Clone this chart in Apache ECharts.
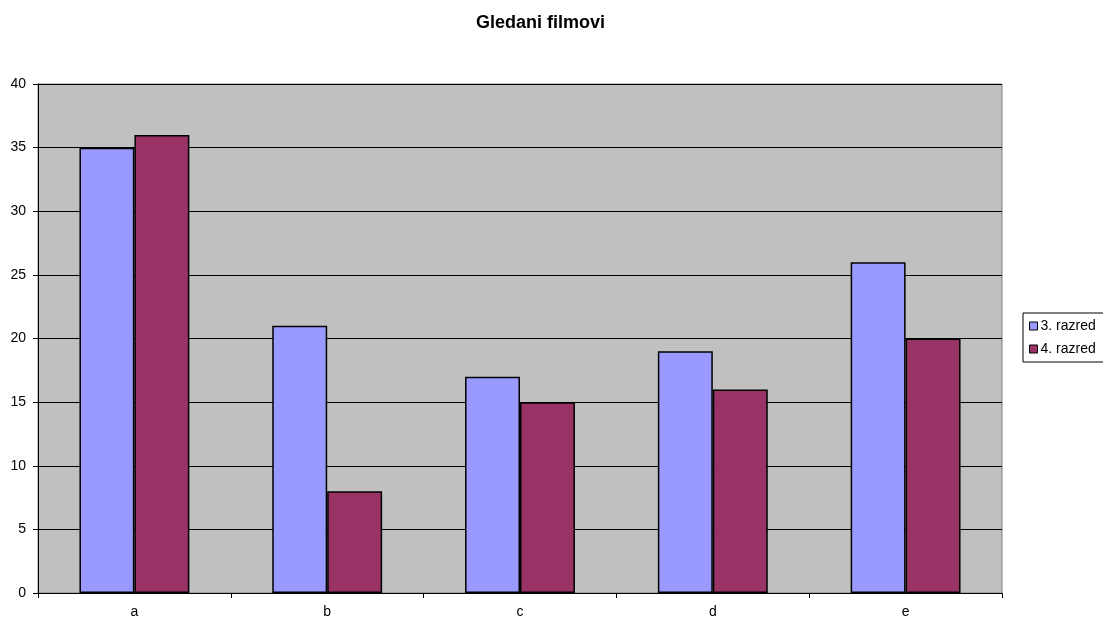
<!DOCTYPE html>
<html><head><meta charset="utf-8">
<script src="https://cdn.jsdelivr.net/npm/echarts@6/dist/echarts.min.js"></script>
<style>html,body{margin:0;padding:0;background:#fff}#c{width:1103px;height:619px}</style>
</head><body><div id="c"></div>
<script>
const categories = ['a','b','c','d','e'];
const razred3 = [35, 21, 17, 19, 26];
const razred4 = [36, 8, 15, 16, 20];
const seriesNames = ['3. razred','4. razred'];
const chart = echarts.init(document.getElementById('c'));
const font = 'Arial, "Liberation Sans", sans-serif';
chart.setOption({
  animation: false,
  backgroundColor: '#fff',
  title: { text: 'Gledani filmovi', left: 471, top: 9,
    textStyle: { fontFamily: font, fontSize: 18, fontWeight: 'bold', color: '#000' } },
  legend: {
    orient: 'vertical', left: 1023, top: 313,
    itemWidth: 8, itemHeight: 8, itemGap: 9,
    borderColor: '#000', borderWidth: 1, padding: [6, 20, 6, 6],
    textStyle: { fontFamily: font, fontSize: 14, color: '#000', padding: [0,0,0,-2] },
    icon: 'rect',
    data: seriesNames.map(n => ({ name: n, itemStyle: { borderColor: '#000', borderWidth: 1 } }))
  },
  grid: { left: 38, right: 101, top: 84, bottom: 25, show: true,
    backgroundColor: '#c0c0c0', borderColor: '#808080', borderWidth: 1 },
  xAxis: {
    type: 'category', data: categories,
    axisLine: { lineStyle: { color: '#000' } },
    axisTick: { show: true, length: 5, lineStyle: { color: '#000' } },
    axisLabel: { fontFamily: font, fontSize: 14, color: '#000', margin: 12 }
  },
  yAxis: {
    type: 'value', min: 0, max: 40, interval: 5,
    axisLine: { show: true, lineStyle: { color: '#000' } },
    axisTick: { show: true, length: 5, lineStyle: { color: '#000' } },
    axisLabel: { fontFamily: font, fontSize: 14, color: '#000', margin: 12 },
    splitLine: { lineStyle: { color: '#000', width: 1 } }
  },
  series: [
    { name: seriesNames[0], type: 'bar', data: razred3, barGap: '0%', barCategoryGap: '43%',
      itemStyle: { color: '#9999ff', borderColor: '#000', borderWidth: 1.5 } },
    { name: seriesNames[1], type: 'bar', data: razred4,
      itemStyle: { color: '#993366', borderColor: '#000', borderWidth: 1.5 } }
  ]
});
</script></body></html>
